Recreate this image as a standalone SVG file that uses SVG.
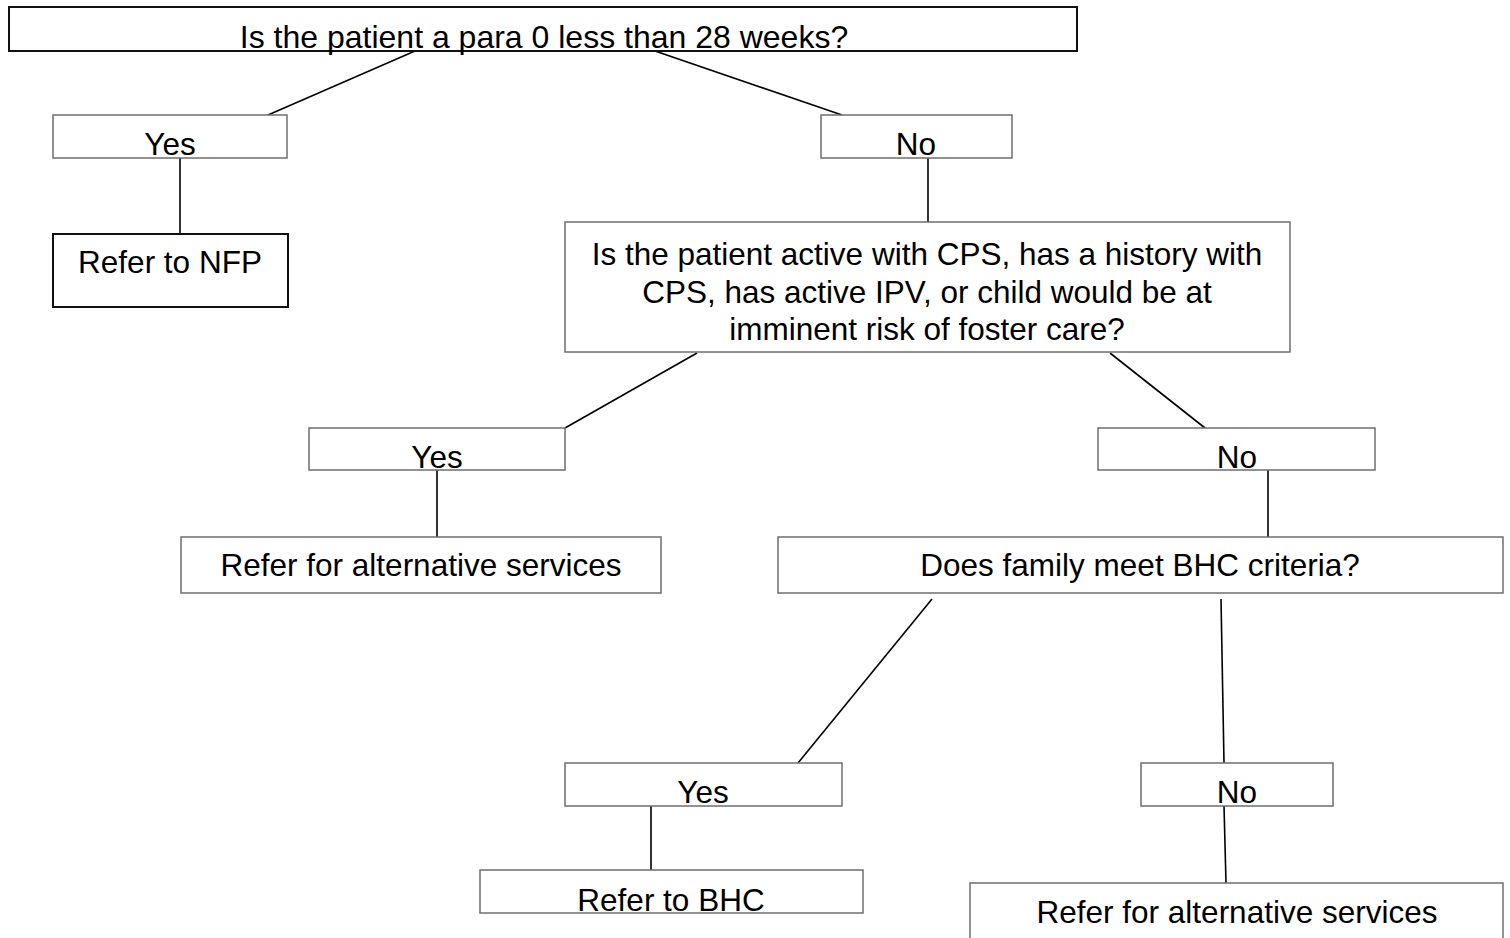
<svg xmlns="http://www.w3.org/2000/svg" width="1510" height="938" viewBox="0 0 1510 938">
<style>
.box{fill:#fff;stroke:#6e6e6e;stroke-width:1.5}
.dark{fill:#fff;stroke:#111;stroke-width:2}
.t{font-family:"Liberation Sans",Arial,sans-serif;font-size:31.5px;fill:#000;text-anchor:middle}
.c{stroke:#000;stroke-width:1.6;fill:none}
</style>
<rect width="1510" height="938" fill="#fff"/>
<g id="connectors">
<line class="c" x1="415" y1="51" x2="268" y2="115"/>
<line class="c" x1="655" y1="51" x2="842" y2="115"/>
<line class="c" x1="180" y1="158" x2="180" y2="234"/>
<line class="c" x1="928" y1="158" x2="928" y2="222"/>
<line class="c" x1="697" y1="353" x2="565" y2="428"/>
<line class="c" x1="1110" y1="353" x2="1205" y2="428"/>
<line class="c" x1="437" y1="470" x2="437" y2="537"/>
<line class="c" x1="1268" y1="470" x2="1268" y2="537"/>
<line class="c" x1="932" y1="599" x2="798" y2="763"/>
<line class="c" x1="1221" y1="599" x2="1224" y2="763"/>
<line class="c" x1="651" y1="806" x2="651" y2="870"/>
<line class="c" x1="1224" y1="806" x2="1226" y2="883"/>
</g>
<g id="q1">
<rect class="dark" x="9" y="7" width="1068" height="44"/>
<text class="t" x="544" y="48" style="font-size:32px">Is the patient a para 0 less than 28 weeks?</text>
</g>
<g id="yes1">
<rect class="box" x="53" y="115" width="234" height="43"/>
<text class="t" x="170" y="155">Yes</text>
</g>
<g id="no1">
<rect class="box" x="821" y="115" width="191" height="43"/>
<text class="t" x="916" y="155">No</text>
</g>
<g id="nfp">
<rect class="dark" x="53" y="234" width="235" height="73"/>
<text class="t" x="170" y="273">Refer to NFP</text>
</g>
<g id="q2">
<rect class="box" x="565" y="222" width="725" height="130"/>
<text class="t" x="927" y="265">Is the patient active with CPS, has a history with</text>
<text class="t" x="927" y="303">CPS, has active IPV, or child would be at</text>
<text class="t" x="927" y="340">imminent risk of foster care?</text>
</g>
<g id="yes2">
<rect class="box" x="309" y="428" width="256" height="42"/>
<text class="t" x="437" y="468">Yes</text>
</g>
<g id="no2">
<rect class="box" x="1098" y="428" width="277" height="42"/>
<text class="t" x="1237" y="468">No</text>
</g>
<g id="alt1">
<rect class="box" x="181" y="537" width="480" height="56"/>
<text class="t" x="421" y="576">Refer for alternative services</text>
</g>
<g id="q3">
<rect class="box" x="778" y="537" width="725" height="56"/>
<text class="t" x="1140" y="576">Does family meet BHC criteria?</text>
</g>
<g id="yes3">
<rect class="box" x="565" y="763" width="277" height="43"/>
<text class="t" x="703" y="803">Yes</text>
</g>
<g id="no3">
<rect class="box" x="1141" y="763" width="192" height="43"/>
<text class="t" x="1237" y="803">No</text>
</g>
<g id="bhc">
<rect class="box" x="480" y="870" width="383" height="43"/>
<text class="t" x="671" y="911">Refer to BHC</text>
</g>
<g id="alt2">
<rect class="box" x="970" y="883" width="533" height="80"/>
<text class="t" x="1237" y="923">Refer for alternative services</text>
</g>
</svg>
